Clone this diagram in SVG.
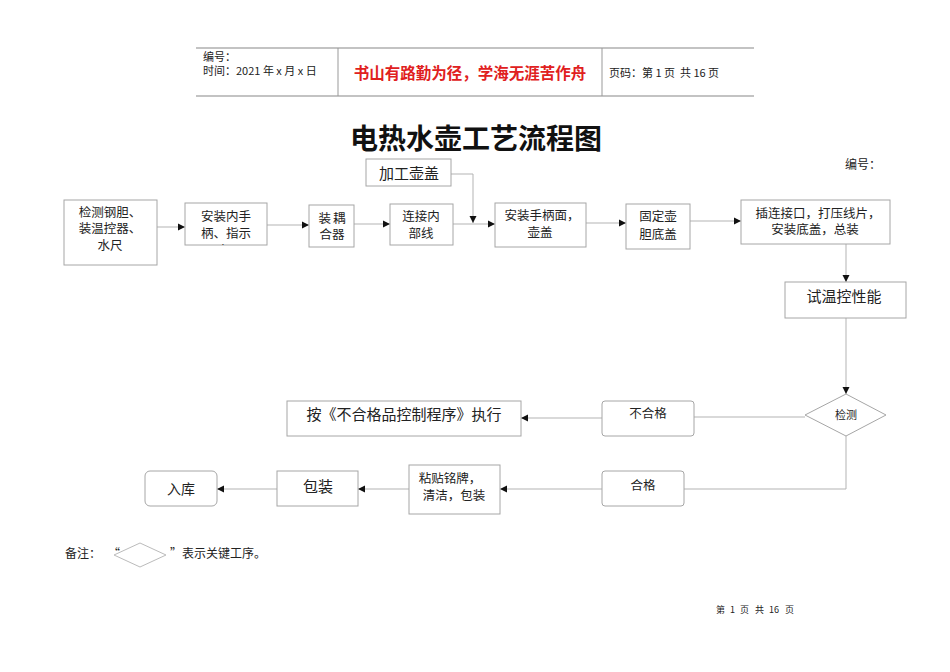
<svg xmlns="http://www.w3.org/2000/svg" width="950" height="672" viewBox="0 0 950 672">
<style>
text{font-family:"Noto Sans CJK SC","Liberation Sans",sans-serif;fill:#222;white-space:pre;}
.b{fill:#fff;stroke:#a6a6a6;stroke-width:1;}
.c{fill:none;stroke:#b3b3b3;stroke-width:1;}
.t13{font-size:12.5px;text-anchor:middle;}
.t15{font-size:15px;text-anchor:middle;}
.h{font-size:11px;}
</style>
<defs>
<marker id="a" markerWidth="8" markerHeight="8" refX="7" refY="4" orient="auto" markerUnits="userSpaceOnUse">
<path d="M0,0.5 L7,4 L0,7.5 Z" fill="#111"/>
</marker>
<clipPath id="clip2"><rect x="185" y="203" width="82" height="42"/></clipPath>
</defs>
<rect width="950" height="672" fill="#fff"/>
<g id="header">
<line x1="196" y1="48" x2="754" y2="48" stroke="#888" stroke-width="1.2"/>
<line x1="196" y1="96" x2="754" y2="96" stroke="#888" stroke-width="1.2"/>
<line x1="338" y1="48" x2="338" y2="96" stroke="#999"/>
<line x1="602" y1="48" x2="602" y2="96" stroke="#999"/>
<text class="h"><tspan x="203" y="61">编号：</tspan><tspan x="203" y="75" xml:space="preserve">时间：2021 年 x 月 x 日</tspan></text>
<text x="470" y="79" style="font-size:15.5px;font-weight:bold;fill:#e02020;text-anchor:middle">书山有路勤为径，学海无涯苦作舟</text>
<text x="609" y="77" class="h" xml:space="preserve">页码：第 1 页  共 16 页</text>
</g>
<text id="title" x="476" y="149" style="font-size:28px;font-weight:bold;text-anchor:middle;fill:#111">电热水壶工艺流程图</text>
<text x="845" y="169" style="font-size:12px">编号：</text>
<g id="connectors">
<line class="c" x1="157" y1="227" x2="185" y2="227" marker-end="url(#a)"/>
<line class="c" x1="267" y1="225" x2="309" y2="225" marker-end="url(#a)"/>
<line class="c" x1="354" y1="224" x2="390" y2="224" marker-end="url(#a)"/>
<line class="c" x1="453" y1="224" x2="495" y2="224" marker-end="url(#a)"/>
<polyline class="c" points="451,174 473,174 473,223" marker-end="url(#a)"/>
<line class="c" x1="586" y1="223" x2="626" y2="223" marker-end="url(#a)"/>
<line class="c" x1="690" y1="221" x2="741" y2="221" marker-end="url(#a)"/>
<line class="c" x1="846" y1="244" x2="846" y2="282" marker-end="url(#a)"/>
<line class="c" x1="846" y1="318" x2="846" y2="394" marker-end="url(#a)"/>
<line class="c" x1="805" y1="417" x2="694" y2="417"/>
<line class="c" x1="602" y1="418" x2="521" y2="418" marker-end="url(#a)"/>
<polyline class="c" points="846,436 846,489 684,489"/>
<line class="c" x1="602" y1="489" x2="500" y2="489" marker-end="url(#a)"/>
<line class="c" x1="409" y1="489" x2="358" y2="489" marker-end="url(#a)"/>
<line class="c" x1="277" y1="489" x2="217" y2="489" marker-end="url(#a)"/>
</g>
<g id="n1"><rect class="b" x="64" y="200" width="93" height="65"/>
<text class="t13"><tspan x="110" y="217">检测钢胆、</tspan><tspan x="110" y="233">装温控器、</tspan><tspan x="110" y="250">水尺</tspan></text></g>
<g id="n2"><rect class="b" x="185" y="203" width="82" height="42"/>
<text class="t13" clip-path="url(#clip2)"><tspan x="226" y="221">安装内手</tspan><tspan x="226" y="238">柄、指示</tspan><tspan x="226" y="255">灯</tspan></text></g>
<g id="n3"><rect class="b" x="309" y="205" width="45" height="42"/>
<text class="t13"><tspan x="333" y="223" style="letter-spacing:2px">装耦</tspan><tspan x="332" y="239">合器</tspan></text></g>
<g id="n4"><rect class="b" x="390" y="204" width="63" height="41"/>
<text class="t13"><tspan x="421" y="221">连接内</tspan><tspan x="421" y="238">部线</tspan></text></g>
<g id="n5"><rect class="b" x="366" y="159" width="85" height="27"/>
<text class="t15" x="409" y="179">加工壶盖</text></g>
<g id="n6"><rect class="b" x="495" y="203" width="91" height="44"/>
<text class="t13"><tspan x="542" y="220">安装手柄面，</tspan><tspan x="540" y="237">壶盖</tspan></text></g>
<g id="n7"><rect class="b" x="626" y="204" width="64" height="45"/>
<text class="t13"><tspan x="658" y="221">固定壶</tspan><tspan x="658" y="239">胆底盖</tspan></text></g>
<g id="n8"><rect class="b" x="741" y="200" width="149" height="44"/>
<text class="t13"><tspan x="818" y="218">插连接口，打压线片，</tspan><tspan x="815" y="234">安装底盖，总装</tspan></text></g>
<g id="n9"><rect class="b" x="785" y="282" width="121" height="36"/>
<text class="t15" x="844" y="302">试温控性能</text></g>
<g id="n10"><polygon class="b" points="846,394 886,415 846,436 805,415"/>
<text x="846" y="419" style="font-size:11px;text-anchor:middle">检测</text></g>
<g id="n11"><rect class="b" x="602" y="401" width="92" height="35" rx="3"/>
<text class="t13" x="648" y="418">不合格</text></g>
<g id="n12"><rect class="b" x="287" y="401" width="234" height="35"/>
<text class="t15" x="404" y="420">按《不合格品控制程序》执行</text></g>
<g id="n13"><rect class="b" x="602" y="471" width="82" height="35" rx="3"/>
<text class="t13" x="643" y="490">合格</text></g>
<g id="n14"><rect class="b" x="409" y="465" width="91" height="49"/>
<text class="t13"><tspan x="450" y="483">粘贴铭牌，</tspan><tspan x="454" y="500">清洁，包装</tspan></text></g>
<g id="n15"><rect class="b" x="277" y="471" width="81" height="35"/>
<text class="t15" x="318" y="492">包装</text></g>
<g id="n16"><rect class="b" x="145" y="471" width="72" height="35" rx="5"/>
<text x="181" y="494" style="font-size:14px;text-anchor:middle">入库</text></g>
<g id="note">
<text x="65" y="558" style="font-size:12px">备注：</text>
<text x="108" y="558" style="font-size:12px">“</text>
<polygon points="140,543 166,555 140,567 114,555" fill="none" stroke="#bbb" stroke-width="1"/>
<text x="170" y="558" style="font-size:12px">”表示关键工序。</text>
</g>
<text y="613" style="font-size:9px"><tspan x="716">第</tspan><tspan x="730">1</tspan><tspan x="740">页</tspan><tspan x="755">共</tspan><tspan x="769">16</tspan><tspan x="785">页</tspan></text>
</svg>
